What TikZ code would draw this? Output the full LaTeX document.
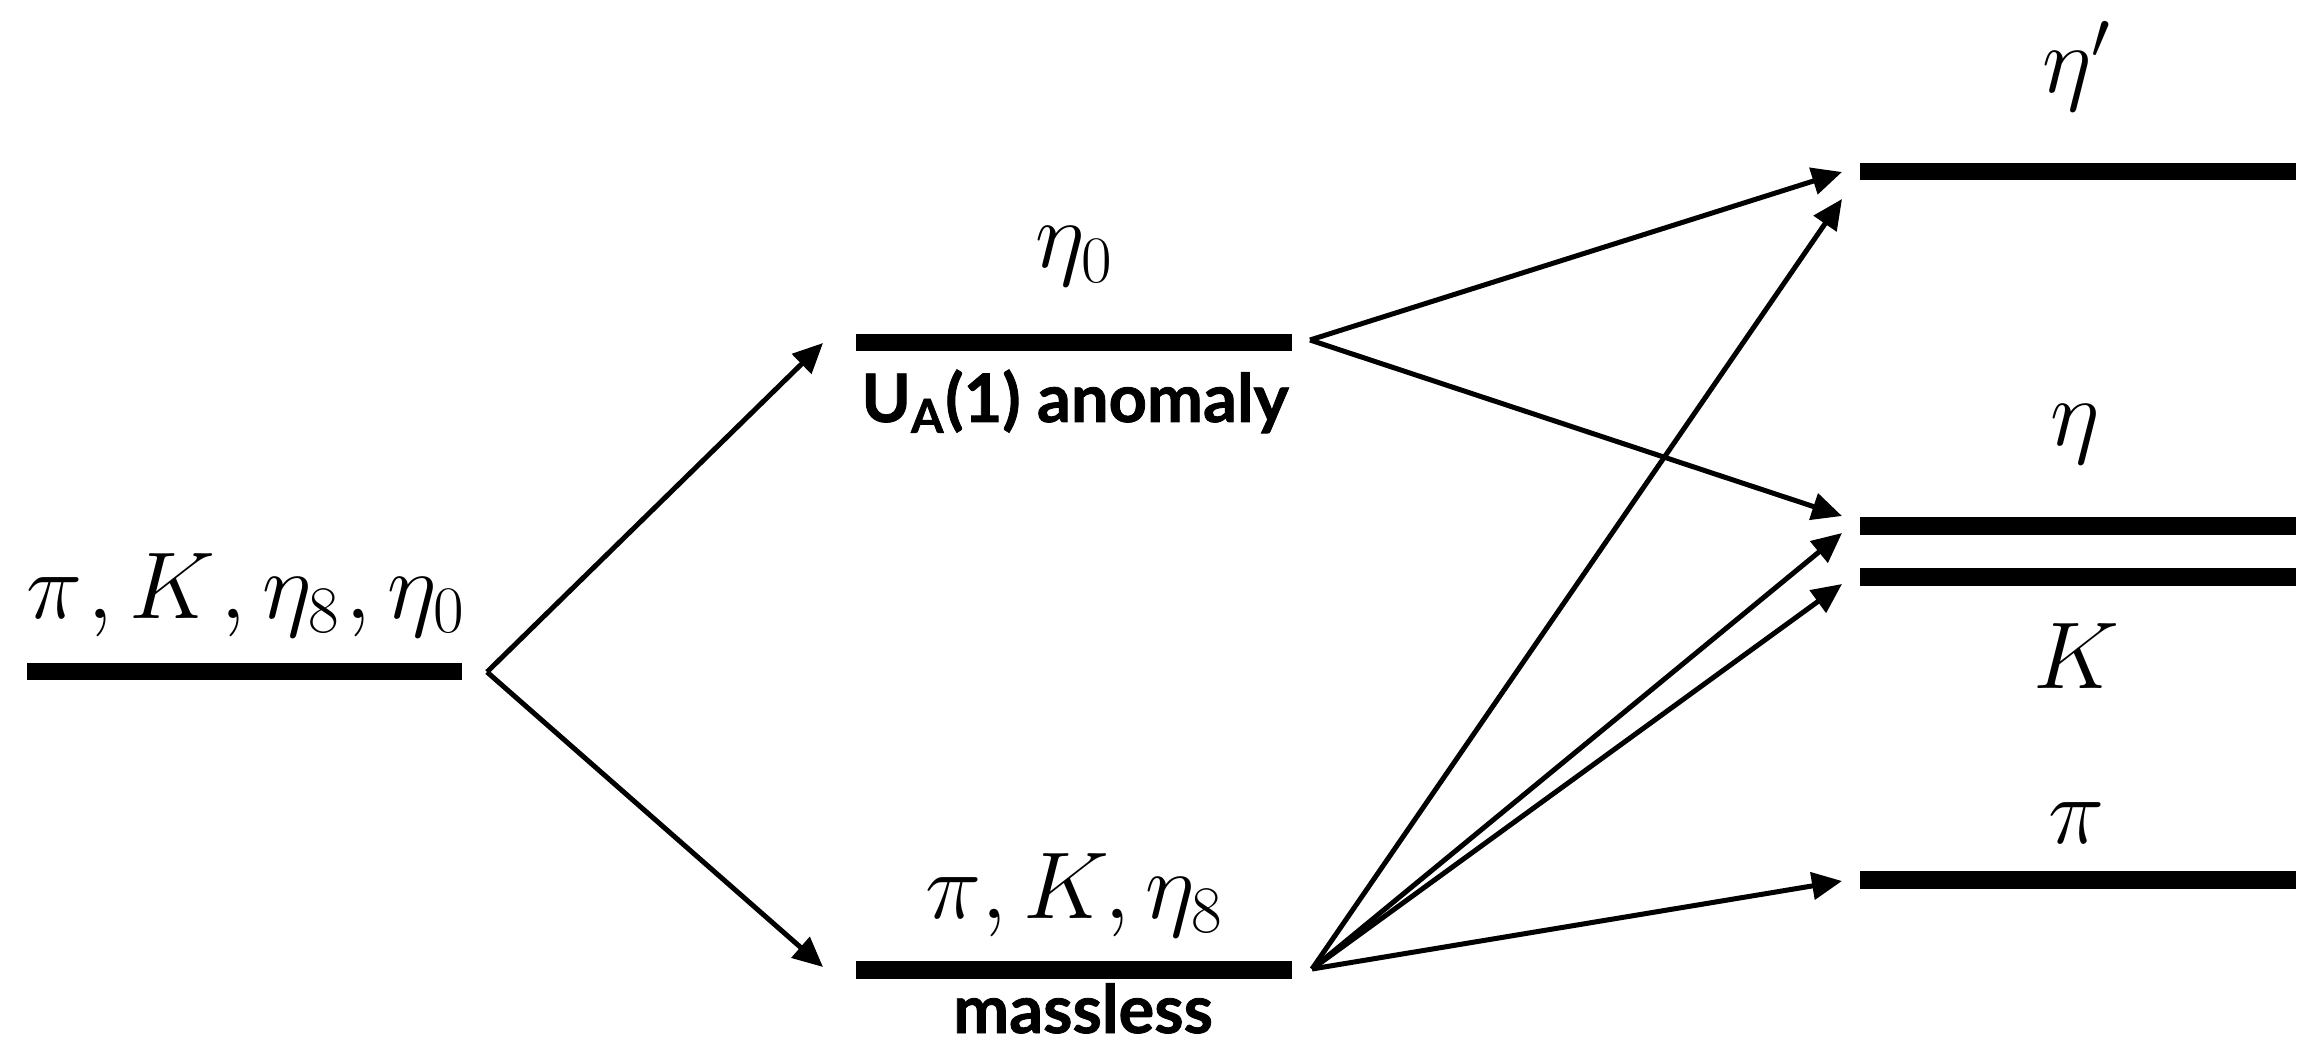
\RequirePackage{fix-cm}
\documentclass[tikz,border=0pt]{standalone}
\usepackage{fontspec}
\newfontfamily\gill[BoldFeatures={FakeBold=1.2}]{Lato}
\usetikzlibrary{arrows.meta}
\tikzset{
  level/.style={line width=0.175cm},
  conn/.style={line width=0.05cm,-{Triangle[length=0.30cm,width=0.27cm]}},
  mlab/.style={anchor=base,inner sep=0pt,font=\fontsize{27}{32}\selectfont},
  tlab/.style={anchor=base,inner sep=0pt,font=\fontsize{19}{22}\selectfont\gill\bfseries}
}
\begin{document}
\begin{tikzpicture}[x=0.01cm,y=-0.01cm]
\useasboundingbox (0,0) rectangle (2307,1043);
% level bars
\coordinate (l0a) at (27,671.5);   \coordinate (l0b) at (462,671.5);
\coordinate (mta) at (856,342.5);  \coordinate (mtb) at (1292,342.5);
\coordinate (mba) at (856,970);    \coordinate (mbb) at (1292,970);
\coordinate (rpa) at (1860,171.5); \coordinate (rpb) at (2296,171.5);
\coordinate (rea) at (1860,526);   \coordinate (reb) at (2296,526);
\coordinate (rka) at (1860,577);   \coordinate (rkb) at (2296,577);
\coordinate (rxa) at (1860,880);   \coordinate (rxb) at (2296,880);
\draw[level] (l0a) -- (l0b);
\draw[level] (mta) -- (mtb);
\draw[level] (mba) -- (mbb);
\draw[level] (rpa) -- (rpb);
\draw[level] (rea) -- (reb);
\draw[level] (rka) -- (rkb);
\draw[level] (rxa) -- (rxb);
% labels
\node[mlab] (lab0) at (246,618) {$\pi\mkern1mu, K\mkern1mu, \eta_8\mkern1mu, \eta_0$};
\node[mlab] (labt) at (1075,268) {$\eta_0$};
\node[mlab] (labb) at (1075,918) {$\pi, K, \eta_8$};
\node[tlab] (anom) at (1075,422) {U\textsubscript{A}(1) anomaly};
\node[tlab] (mless) at (1083,1033) {massless};
\node[mlab] (labep) at (2077,93) {$\eta'$};
\node[mlab] (labe) at (2075,445) {$\eta$};
\node[mlab] (labk) at (2076,688) {$K$};
\node[mlab] (labpi) at (2077,843) {$\pi$};
% arrow endpoints
\coordinate (s0) at (487,672);
\coordinate (tup) at (823,343);
\coordinate (tdn) at (823,967);
\coordinate (s1) at (1310,340);
\coordinate (s2) at (1312,969);
\coordinate (ep1) at (1842,172);
\coordinate (ep2) at (1842,199);
\coordinate (e1) at (1842,516);
\coordinate (e2) at (1842,533);
\coordinate (k1) at (1842,584);
\coordinate (p1) at (1842,881);
\draw[conn] (s0) -- (tup);
\draw[conn] (s0) -- (tdn);
\draw[conn] (s1) -- (ep1);
\draw[conn] (s1) -- (e1);
\draw[conn] (s2) -- (ep2);
\draw[conn] (s2) -- (e2);
\draw[conn] (s2) -- (k1);
\draw[conn] (s2) -- (p1);
\end{tikzpicture}
\end{document}
